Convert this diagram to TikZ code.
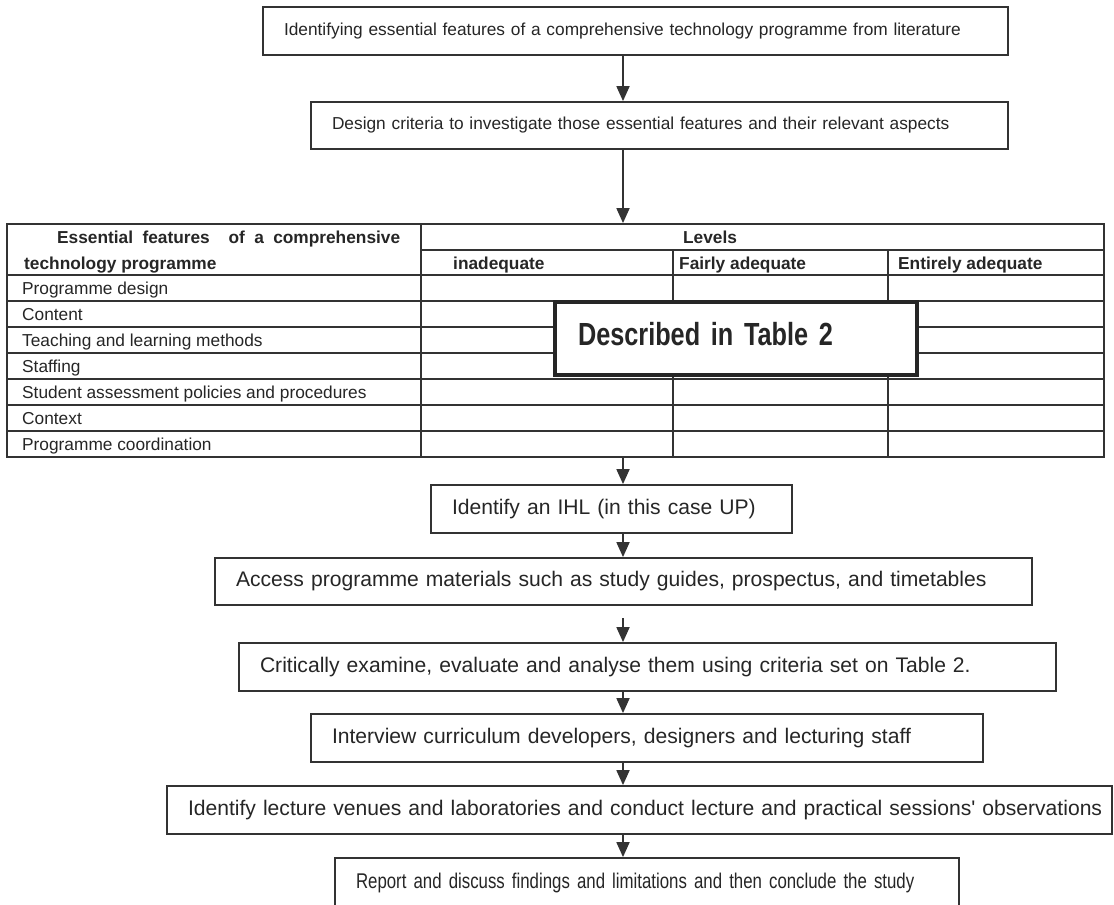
\documentclass[tikz,border=0pt]{standalone}
\usepackage{fontspec}
\setmainfont{Liberation Sans}
\newfontfamily\narrowfont{Liberation Sans}[FakeStretch=0.79]
\usetikzlibrary{arrows.meta, positioning}

\begin{document}
\begin{tikzpicture}[x=1pt, y=-1pt, color=black!85,
    >={Triangle[length=15pt, width=13pt]},
    procbox/.style={draw=black!80, line width=1.8pt, fill=white, inner xsep=21pt, inner ysep=0pt,
                    minimum height=48pt, align=left, font=\fontsize{21.1}{25}\selectfont},
    flow/.style={->, draw=black!80, line width=1.8pt},
    grid/.style={draw=black!80, line width=1.8pt},
    cell/.style={anchor=base west, inner sep=0pt, font=\fontsize{17.3}{20}\selectfont},
    headcell/.style={cell, font=\fontsize{17.3}{20}\selectfont\bfseries}]

% --- Page frame ---
\useasboundingbox (0,0) rectangle (1114,905);
\fill[white] (0,0) rectangle (1114,905);
\clip (0,0) rectangle (1114,905);

% all connectors run down one vertical line
\coordinate (spine) at (623,0);

% --- Top boxes ---
\node[procbox, minimum width=745pt, text width=703pt, font=\fontsize{17.3}{20}\selectfont] (ident) at (635.5,31)
    {Identifying essential features of a comprehensive technology programme from literature};
\node[procbox, minimum width=697pt, text width=655pt, minimum height=47pt, font=\fontsize{17.3}{20}\selectfont] (criteria) at (659.5,125.5)
    {Design criteria to investigate those essential features and their relevant aspects};

% --- Table ---
\node[grid, draw, minimum width=1097pt, minimum height=233pt, inner sep=0pt] (grid) at (555.5,340.5) {};
\draw[grid] (421,224) -- (421,457);
\draw[grid] (421,250) -- (1104,250);
\draw[grid] (673,250) -- (673,457);
\draw[grid] (888,250) -- (888,457);
\foreach \y in {275,301,...,431}
    \draw[grid] (7,\y) -- (1104,\y);

% header
\node[headcell] (feat1) at (57,243.2) {\makebox[343pt][s]{Essential features\ \ of a comprehensive}};
\node[headcell] (feat2) at (24,269.2) {technology programme};
\node[headcell, anchor=base] (levels) at (710,243.2) {Levels};
\node[headcell] (lvl1) at (453,269.2) {inadequate};
\node[headcell] (lvl2) at (679,269.2) {Fairly adequate};
\node[headcell] (lvl3) at (898,269.2) {Entirely adequate};

% rows
\foreach \lbl [count=\i from 0] in {Programme design, Content, Teaching and learning methods, Staffing,
        Student assessment policies and procedures, Context, Programme coordination}
    \node[cell] (row\i) at (22,{294.2+26*\i}) {\lbl};

% overlay note
\node[draw=black!85, line width=3.5pt, fill=white, minimum width=362pt, minimum height=73pt,
      inner xsep=23pt, text width=316pt, text depth=10pt, align=left,
      font=\narrowfont\bfseries\fontsize{32}{36}\selectfont] (described) at (736,338.5) {Described in Table 2};

% --- Lower boxes ---
\node[procbox, minimum width=361pt, text width=319pt] (ihl) at (611.5,509) {Identify an IHL (in this case UP)};
\node[procbox, minimum width=817pt, text width=775pt, minimum height=47pt] (access) at (623.5,581.5)
    {Access programme materials such as study guides, prospectus, and timetables};
\coordinate (gap) at (623,618);
\node[procbox, minimum width=817pt, text width=775pt] (examine) at (647.5,667)
    {Critically examine, evaluate and analyse them using criteria set on Table 2.};
\node[procbox, minimum width=672pt, text width=630pt] (interview) at (647,738)
    {Interview curriculum developers, designers and lecturing staff};
\node[procbox, minimum width=945pt, text width=903pt] (venues) at (639.5,810)
    {\mbox{Identify lecture venues and laboratories and conduct lecture and practical sessions\textquotesingle\ observations}};
\node[procbox, minimum width=624pt, text width=582pt, minimum height=50pt,
      font=\narrowfont\fontsize{21.3}{25}\selectfont] (report) at (647,883)
    {Report and discuss findings and limitations and then conclude the study};

% --- Connectors ---
\draw[flow] (ident.south -| spine) -- (criteria.north -| spine);
\draw[flow] (criteria.south -| spine) -- (grid.north -| spine);
\draw[flow] (grid.south -| spine) -- (ihl.north -| spine);
\draw[flow] (ihl.south -| spine) -- (access.north -| spine);
\draw[flow] (gap) -- (examine.north -| spine);
\draw[flow] (examine.south -| spine) -- (interview.north -| spine);
\draw[flow] (interview.south -| spine) -- (venues.north -| spine);
\draw[flow] (venues.south -| spine) -- (report.north -| spine);
\end{tikzpicture}
\end{document}
